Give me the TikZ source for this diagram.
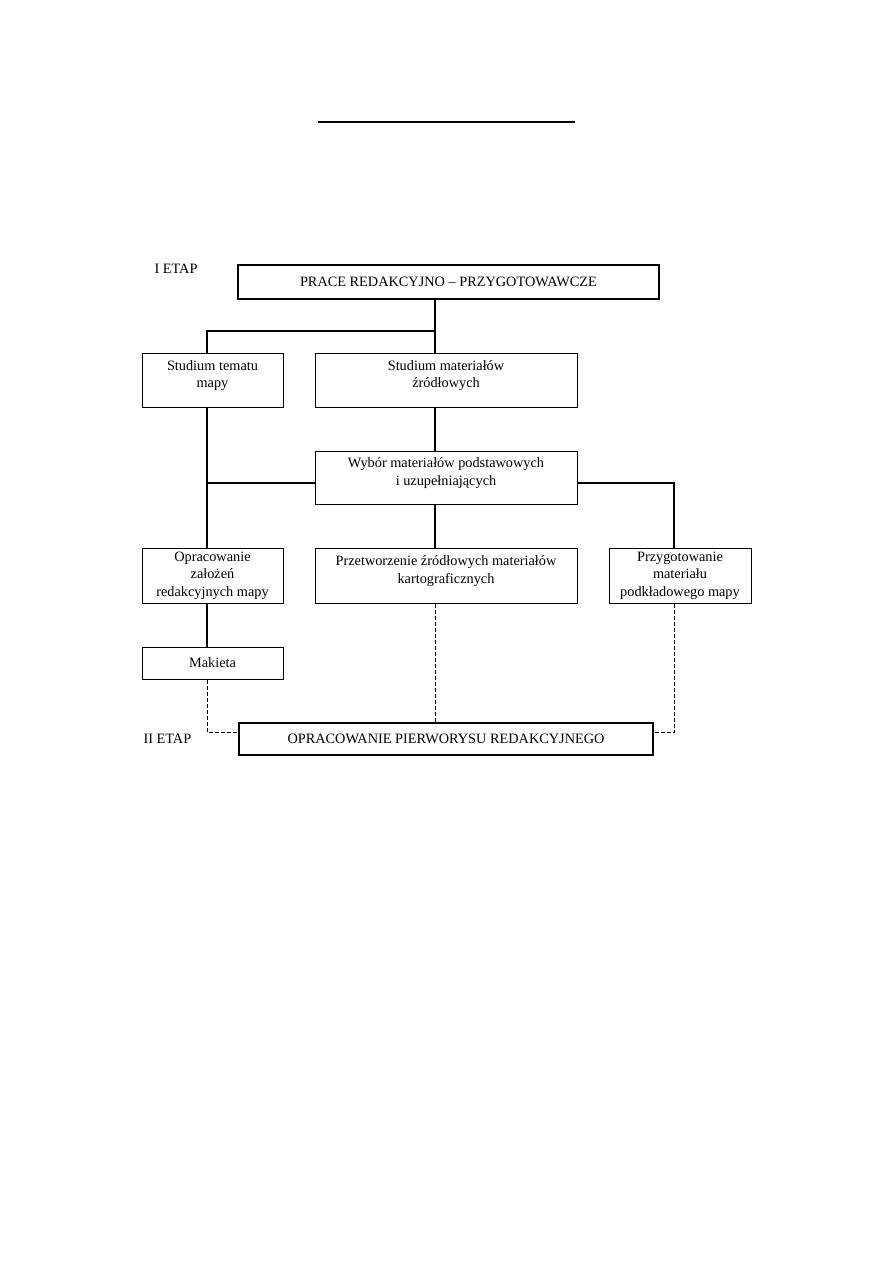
\documentclass[tikz,border=0pt]{standalone}
\usepackage{fontspec}
\setmainfont{Liberation Serif}
\begin{document}
\begin{tikzpicture}[x=1pt,y=-1pt,
  txt/.style={font=\fontsize{14.3}{17.5}\selectfont},
  box/.style={txt,draw,line width=1pt,inner sep=0pt,align=center},
  bigbox/.style={box,line width=2pt},
  two/.style={text height=25pt,text depth=10pt},
  conn/.style={line width=1.2pt},
  dconn/.style={line width=0.9pt,dash pattern=on 4pt off 2pt}]
\path[use as bounding box] (0,0) rectangle (893,1263);
% top rule
\coordinate (r1) at (318,122);
\coordinate (r2) at (575,122);
\draw[line width=1.2pt] (r1) -- (r2);
% labels
\node[txt,anchor=base west] (l1) at (151,273) {I ETAP};
\node[txt,anchor=base west] (l2) at (140,743) {II ETAP};
% boxes
\node[bigbox,minimum width=421pt,minimum height=34pt] (top) at (448.5,282) {PRACE REDAKCYJNO – PRZYGOTOWAWCZE};
\node[box,two,minimum width=141pt,minimum height=54pt] (st) at (212.5,380) {Studium tematu\\mapy};
\node[box,two,minimum width=262pt,minimum height=54pt] (sm) at (446,380) {Studium materiałów\\źródłowych};
\node[box,two,minimum width=262pt,minimum height=53pt] (wb) at (446,477.5) {Wybór materiałów podstawowych\\i uzupełniających};
\node[box,minimum width=141pt,minimum height=55pt] (op) at (212.5,575.5) {Opracowanie\\założeń\\redakcyjnych mapy};
\node[box,two,minimum width=262pt,minimum height=55pt] (pz) at (446,575.5) {Przetworzenie źródłowych materiałów\\kartograficznych};
\node[box,minimum width=142pt,minimum height=55pt] (pg) at (680,575.5) {Przygotowanie\\materiału\\podkładowego mapy};
\node[box,minimum width=141pt,minimum height=32pt] (mk) at (212.5,663) {Makieta};
\node[bigbox,minimum width=414pt,minimum height=32pt] (bot) at (446,739) {OPRACOWANIE PIERWORYSU REDAKCYJNEGO};
% junction coordinates
\coordinate (cx) at (435,0);
\coordinate (lx) at (207,0);
\coordinate (rx) at (674,0);
\coordinate (j1) at (435,331);
\coordinate (j2) at (207,331);
\coordinate (j3) at (207,483);
\coordinate (j4) at (674,483);
\coordinate (d1) at (207,732);
\coordinate (d2) at (674,732);
% solid connectors
\draw[conn] (top.south -| cx) -- (sm.north -| cx);
\draw[conn] (j1) -- (j2) -- (st.north -| lx);
\draw[conn] (st.south -| lx) -- (op.north -| lx);
\draw[conn] (j3) -- (wb.west |- j3);
\draw[conn] (sm.south -| cx) -- (wb.north -| cx);
\draw[conn] (wb.south -| cx) -- (pz.north -| cx);
\draw[conn] (wb.east |- j4) -- (j4) -- (pg.north -| rx);
\draw[conn] (op.south -| lx) -- (mk.north -| lx);
% dashed connectors
\draw[dconn] (mk.south -| lx) -- (d1) -- (bot.west |- d1);
\draw[dconn] (pz.south -| cx) -- (bot.north -| cx);
\draw[dconn] (pg.south -| rx) -- (d2) -- (bot.east |- d2);
\end{tikzpicture}
\end{document}
